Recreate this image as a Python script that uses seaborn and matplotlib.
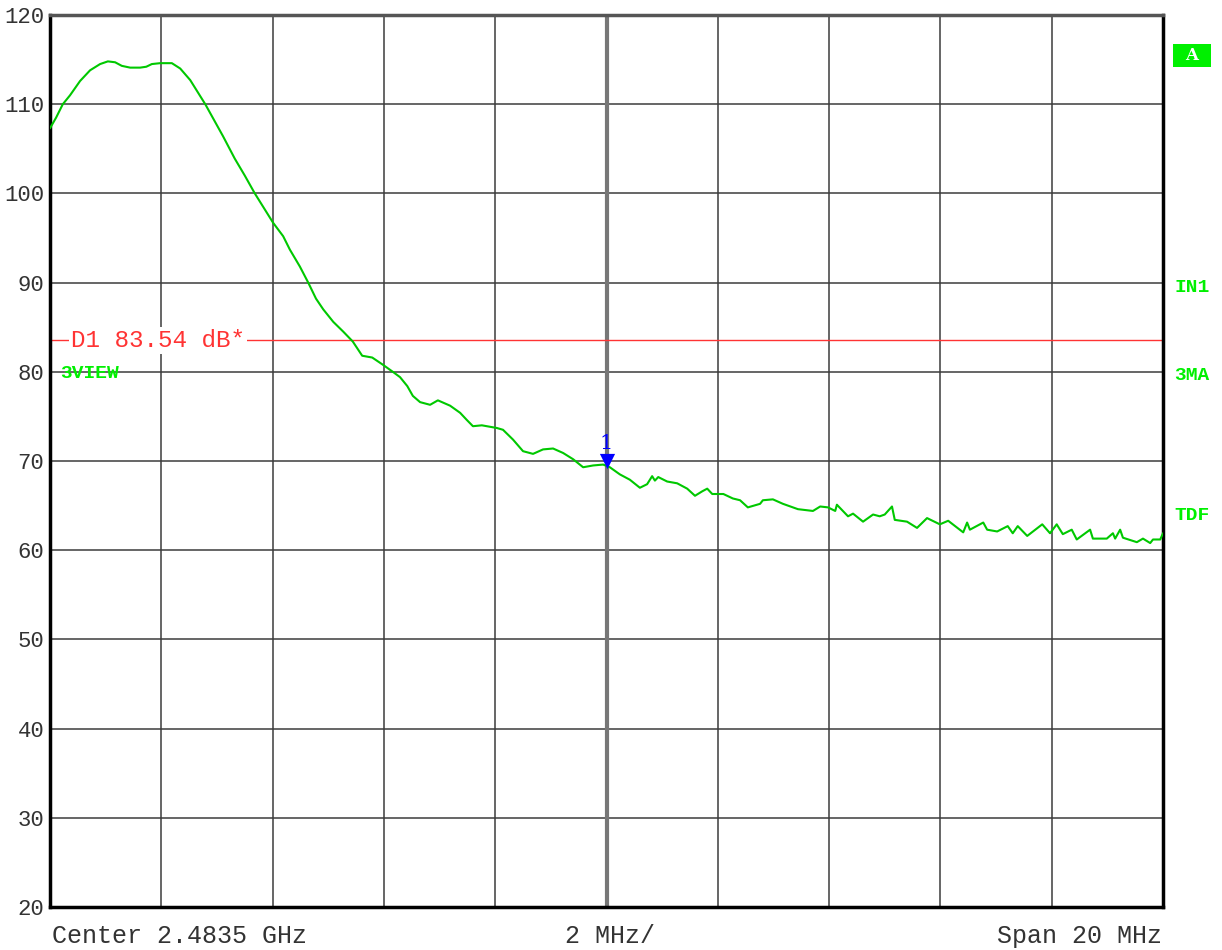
import numpy as np
import pandas as pd
import matplotlib
matplotlib.use('Agg')
import matplotlib.pyplot as plt
from matplotlib.patches import Rectangle
import seaborn as sns

# %% ── Data ─────────────────────────────────────────────────
# frequency offset from sweep start (MHz, 0..20 MHz span) and level (dB)
freq_mhz = [0.00, 0.11, 0.23, 0.36, 0.54, 0.72, 0.90, 1.04, 1.17, 1.29,
            1.44, 1.62, 1.73, 1.83, 1.98, 2.19, 2.34, 2.52, 2.79, 3.11,
            3.32, 3.50, 3.68, 3.86, 4.01, 4.19, 4.31, 4.49, 4.64, 4.78,
            4.91, 5.09, 5.27, 5.44, 5.61, 5.79, 5.98, 6.16, 6.29, 6.42,
            6.52, 6.65, 6.83, 6.97, 7.19, 7.37, 7.49, 7.60, 7.76, 8.03,
            8.14, 8.32, 8.50, 8.68, 8.86, 9.04, 9.22, 9.40, 9.58, 9.76,
            9.94, 10.06, 10.24, 10.42, 10.60, 10.73, 10.82, 10.87, 10.93, 11.09,
            11.27, 11.45, 11.59, 11.72, 11.81, 11.90, 12.10, 12.27, 12.40, 12.54,
            12.76, 12.81, 12.99, 13.17, 13.44, 13.71, 13.84, 13.98, 14.11, 14.14,
            14.34, 14.43, 14.61, 14.79, 14.91, 15.00, 15.13, 15.18, 15.40, 15.58,
            15.76, 15.99, 16.14, 16.41, 16.48, 16.53, 16.77, 16.84, 17.02, 17.21,
            17.30, 17.39, 17.56, 17.83, 17.97, 18.09, 18.20, 18.36, 18.45, 18.69,
            18.74, 18.99, 19.10, 19.14, 19.23, 19.28, 19.53, 19.64, 19.77, 19.82,
            19.95, 20.00]
level_db = [107.3, 108.5, 110.0, 111.0, 112.6, 113.8, 114.5, 114.8, 114.7, 114.3,
            114.1, 114.1, 114.2, 114.5, 114.6, 114.6, 114.0, 112.7, 110.0, 106.4,
            103.9, 102.0, 100.0, 98.2, 96.7, 95.2, 93.7, 91.8, 90.0, 88.2,
            87.0, 85.6, 84.5, 83.4, 81.8, 81.6, 80.8, 80.0, 79.4, 78.4,
            77.3, 76.6, 76.3, 76.8, 76.2, 75.4, 74.6, 73.9, 74.0, 73.7,
            73.5, 72.4, 71.1, 70.8, 71.3, 71.4, 70.9, 70.2, 69.3, 69.5,
            69.6, 69.3, 68.5, 67.9, 67.0, 67.4, 68.3, 67.8, 68.2, 67.7,
            67.5, 66.9, 66.1, 66.6, 66.9, 66.3, 66.3, 65.8, 65.6, 64.8,
            65.2, 65.6, 65.7, 65.2, 64.6, 64.4, 64.9, 64.8, 64.4, 65.1,
            63.8, 64.1, 63.2, 64.0, 63.8, 64.0, 64.9, 63.4, 63.2, 62.5,
            63.6, 62.9, 63.3, 62.0, 63.1, 62.3, 63.1, 62.3, 62.1, 62.7,
            61.9, 62.7, 61.6, 62.9, 61.9, 62.9, 61.8, 62.3, 61.2, 62.3,
            61.3, 61.3, 61.9, 61.3, 62.3, 61.4, 60.9, 61.3, 60.8, 61.2,
            61.2, 61.9]

y_ticks = [20, 30, 40, 50, 60, 70, 80, 90, 100, 110, 120]
display_line_db = 83.54
display_label = 'D1 83.54 dB*'
marker_freq = 10.0
marker_label = '1'
side_labels = ['IN1', '3MA', 'TDF']
center_text = 'Center 2.4835 GHz'
div_text = '2 MHz/'
span_text = 'Span 20 MHz'

trace = pd.DataFrame({'freq': freq_mhz, 'level': level_db})

# %% ── Style ───────────────────────────────────────────────
sns.set_style('white')
plt.rcParams['font.family'] = ['Liberation Mono', 'DejaVu Sans Mono']

GREEN = '#00c800'
BRIGHT = '#00f000'
RED = '#ff3333'
BLUE = '#0000ff'
W, H = 1222, 950

fig = plt.figure(figsize=(W / 100, H / 100), dpi=100)
ax = fig.add_axes([50 / W, 1 - 907 / H, 1113 / W, 892 / H])

# grid
ax.set_xlim(0, 20)
ax.set_ylim(20, 120)
ax.set_xticks(np.arange(0, 21, 2))
ax.set_yticks(y_ticks)
ax.grid(True, color='#3c3c3c', linewidth=1.1)
ax.axvline(10, color='#777777', linewidth=3, zorder=1)
ax.tick_params(axis='both', length=0)
ax.set_xticklabels([])
ax.set_yticklabels([str(v) for v in y_ticks], fontsize=16, color='#333333')
ax.tick_params(axis='y', pad=4)
for side, spine in ax.spines.items():
    spine.set_visible(True)
    spine.set_color('black')
    spine.set_linewidth(2.5)
ax.spines['top'].set_color('#555555')

# display line
ax.axhline(display_line_db, color=RED, linewidth=1, zorder=2)
ax.text(0.38, display_line_db, display_label, color=RED, fontsize=17.5,
        va='center', ha='left', zorder=3,
        bbox=dict(facecolor='white', edgecolor='none', pad=1.5))

# trace
sns.lineplot(data=trace, x='freq', y='level', ax=ax, color=GREEN,
             linewidth=1.5, zorder=4)
ax.set_xlabel('')
ax.set_ylabel('')

# marker 1
m_level = np.interp(marker_freq, freq_mhz, level_db)
ax.scatter([marker_freq], [m_level + 0.6], marker='v', s=120, color=BLUE,
           zorder=6, linewidths=0)
ax.text(marker_freq, m_level + 1.5, marker_label, color=BLUE, fontsize=15,
        ha='center', va='bottom', family='DejaVu Serif', zorder=6)

# labels inside / around the screen
ax.text(0.009, 0.598, '3VIEW', transform=ax.transAxes, color=BRIGHT,
        fontsize=14, fontweight='bold', va='center', ha='left')
fig.patches.append(Rectangle((1173 / W, 1 - 67 / H), 38 / W, 23 / H,
                             transform=fig.transFigure, facecolor=BRIGHT,
                             edgecolor='none'))
fig.text(1192 / W, 1 - 56 / H, 'A', color='white', fontsize=12,
         fontweight='bold', ha='center', va='center', family='DejaVu Serif')
for lab, ypix in zip(side_labels, [288, 375, 516]):
    fig.text(1174 / W, 1 - ypix / H, lab, color=BRIGHT, fontsize=14,
             fontweight='bold', ha='left', va='center')

fig.text(52 / W, 1 - 936 / H, center_text, fontsize=18, color='#333333',
         ha='left', va='center')
fig.text(610 / W, 1 - 936 / H, div_text, fontsize=18, color='#333333',
         ha='center', va='center')
fig.text(1162 / W, 1 - 936 / H, span_text, fontsize=18, color='#333333',
         ha='right', va='center')

plt.savefig('out.png', dpi=100)
